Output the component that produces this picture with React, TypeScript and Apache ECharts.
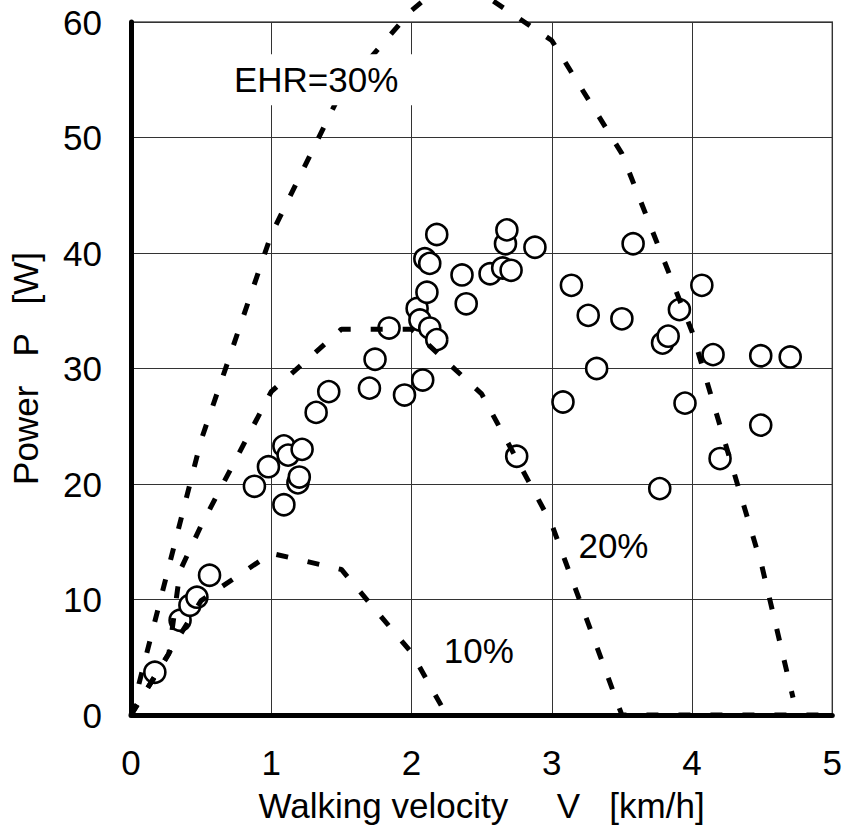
import React, { useEffect, useRef } from "react";
import * as echarts from "echarts";

// Measured walking velocity [km/h] and power [W]
const velocity = [
  0.17, 0.35, 0.42, 0.47, 0.56, 0.88, 0.98, 1.09, 1.12, 1.09,
  1.19, 1.2, 1.22, 1.32, 1.41, 1.7, 1.74, 1.84, 1.95, 2.04,
  2.06, 2.08, 2.095, 2.11, 2.13, 2.13, 2.18, 2.18, 2.36, 2.39,
  2.56, 2.65, 2.67, 2.68, 2.71, 2.75, 2.88, 3.08, 3.14, 3.26,
  3.32, 3.5, 3.58, 3.77, 3.79, 3.83, 3.91, 3.95, 4.07, 4.15,
  4.2, 4.49, 4.49, 4.7,
];
const power = [
  3.7, 8.2, 9.5, 10.2, 12.1, 19.8, 21.5, 23.3, 22.5, 18.2,
  20.1, 20.6, 23.0, 26.2, 28.0, 28.3, 30.8, 33.5, 27.7, 35.2,
  34.2, 29.0, 39.5, 36.6, 39.1, 33.5, 32.5, 41.6, 38.1, 35.6,
  38.2, 38.7, 40.8, 42.0, 38.5, 22.4, 40.5, 27.1, 37.2, 34.6,
  30.0, 34.3, 40.8, 19.6, 32.2, 32.8, 35.1, 27.0, 37.2, 31.2,
  22.2, 31.1, 25.1, 31.0,
];

// Constant-EHR curves: [velocity, power]
const ehr10: [number, number][] = [
  [0, 0], [0.5, 9.9], [1.0, 14.0], [1.5, 12.6], [2.0, 5.4], [2.25, 0],
];
const ehr20: [number, number][] = [
  [0, 0], [0.27, 5.3], [0.35, 12.5], [0.5, 16.4], [1.0, 28.0], [1.5, 33.4],
  [2.0, 33.4], [2.5, 27.8], [3.0, 16.5], [3.5, 0], [5.0, 0],
];
const ehr30: [number, number][] = [
  [0, 0], [0.5, 23.8], [1.0, 41.6], [1.5, 54.0], [2.0, 61.0], [2.25, 63.5],
  [2.5, 62.5], [3.0, 58.4], [3.5, 48.6], [4.0, 33.2], [4.5, 12.8], [4.72, 1.5],
];

// Curve annotations
const noteText = ["EHR=30%", "20%", "10%"];
const noteV = [1.32, 3.44, 2.48];
const noteP = [55.0, 14.7, 5.6];

const FONT = '"Liberation Sans", Arial, Helvetica, sans-serif';
const FS = 35;

const dashed = (data: [number, number][]) => ({
  type: "line",
  data,
  showSymbol: false,
  symbol: "none",
  clip: false,
  z: 3,
  silent: true,
  lineStyle: { color: "#000", width: 5, type: [12, 20], cap: "butt", opacity: 1 },
});

export default function App() {
  const ref = useRef<HTMLDivElement>(null);

  useEffect(() => {
    if (!ref.current) return;
    const chart = echarts.init(ref.current, undefined, { renderer: "svg" });

    const points = velocity.map((v, i) => [v, power[i]]);
    const notes = noteText.map((t, i) => ({
      name: t,
      value: [noteV[i], noteP[i]],
      label:
        i === 0
          ? { backgroundColor: "#fff", padding: [8, 18, 8, 18] }
          : {},
    }));

    chart.setOption({
      animation: false,
      textStyle: { fontFamily: FONT, color: "#000" },
      grid: {
        left: 131,
        right: 12,
        top: 22,
        bottom: 116,
        show: true,
        borderColor: "#555",
        borderWidth: 1.5,
        backgroundColor: "transparent",
      },
      xAxis: {
        type: "value",
        min: 0,
        max: 5,
        interval: 1,
        name: "Walking velocity     V   [km/h]",
        nameLocation: "middle",
        nameGap: 73,
        nameTextStyle: { fontSize: FS, color: "#000", fontFamily: FONT },
        axisLine: { lineStyle: { color: "#000", width: 5 } },
        axisTick: { show: false },
        axisLabel: { fontSize: FS, color: "#000", margin: 30, fontFamily: FONT },
        splitLine: { show: true, lineStyle: { color: "#333", width: 1 } },
      },
      yAxis: {
        type: "value",
        min: 0,
        max: 60,
        interval: 10,
        name: "Power   P   [W]",
        nameLocation: "middle",
        nameGap: 88,
        nameTextStyle: { fontSize: FS, color: "#000", fontFamily: FONT },
        axisLine: { lineStyle: { color: "#000", width: 5 } },
        axisTick: { show: false },
        axisLabel: { fontSize: FS, color: "#000", margin: 29, fontFamily: FONT },
        splitLine: { show: true, lineStyle: { color: "#333", width: 1 } },
      },
      series: [
        {
          type: "scatter",
          data: points,
          symbol: "circle",
          symbolSize: 21,
          z: 2,
          itemStyle: { color: "#fff", borderColor: "#000", borderWidth: 2.6, opacity: 1 },
        },
        dashed(ehr10),
        dashed(ehr20),
        dashed(ehr30),
        {
          type: "scatter",
          data: notes,
          symbolSize: 0,
          z: 10,
          silent: true,
          itemStyle: { opacity: 1 },
          label: {
            show: true,
            position: "inside",
            formatter: "{b}",
            fontSize: FS,
            color: "#000",
            fontFamily: FONT,
          },
        },
      ],
    });

    return () => chart.dispose();
  }, []);

  return (
    <div
      ref={ref}
      style={{ position: "fixed", left: 0, top: 0, width: 845, height: 831, background: "#fff" }}
    />
  );
}
